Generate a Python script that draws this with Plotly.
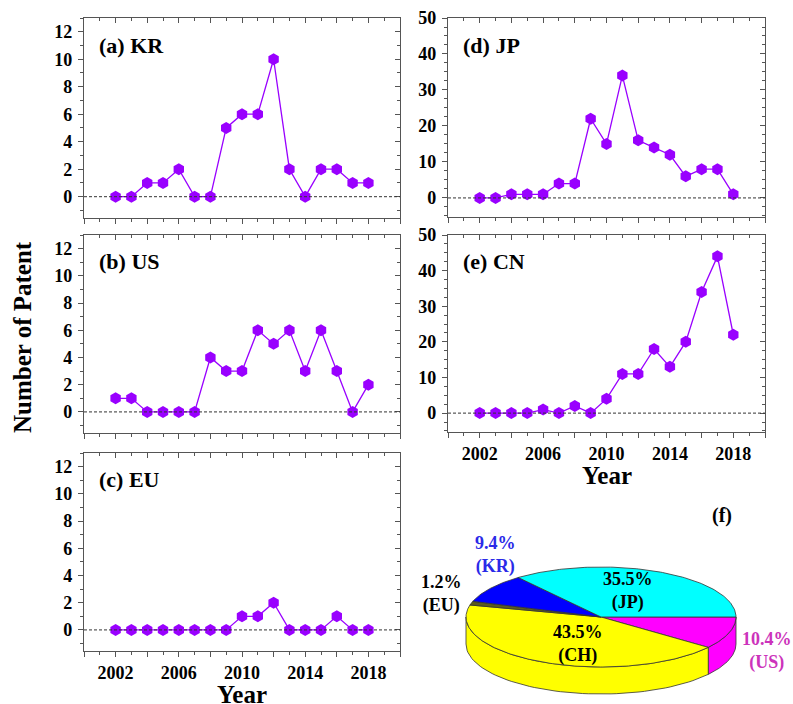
import numpy as np
import plotly.graph_objects as go

W, H = 793, 704
FONT = "Liberation Serif"

# ---------------- data ----------------
years = list(range(2002, 2019))
kr = [0, 0, 1, 1, 2, 0, 0, 5, 6, 6, 10, 2, 0, 2, 2, 1, 1]
us = [1, 1, 0, 0, 0, 0, 4, 3, 3, 6, 5, 6, 3, 6, 3, 0, 2]
eu = [0, 0, 0, 0, 0, 0, 0, 0, 1, 1, 2, 0, 0, 0, 1, 0, 0]
jp = [0, 0, 1, 1, 1, 4, 4, 22, 15, 34, 16, 14, 12, 6, 8, 8, 1]
cn = [0, 0, 0, 0, 1, 0, 2, 0, 4, 11, 11, 18, 13, 20, 34, 44, 22]

panel_labels = ["(a) KR", "(b) US", "(c) EU", "(d) JP", "(e) CN"]
x_label_years = [2002, 2006, 2010, 2014, 2018]

# pie slices, clockwise from 3 o'clock
pie_names = ["US", "CH", "EU", "KR", "JP"]
pie_values = [sum(us), sum(cn), sum(eu), sum(kr), sum(jp)]
pie_colors = ["#ff00ff", "#ffff00", "#5c5c1c", "#0000ff", "#00ffff"]
pie_label_colors = ["#cc33bb", "#000000", "#000000", "#2a2ae8", "#000000"]

# ---------------- layout geometry (pixels) ----------------
# (left, top, right, bottom)
boxes = [(84, 18, 400, 218), (84, 235, 400, 433), (84, 453, 400, 651),
         (448, 18, 765, 217), (448, 235, 765, 432)]
series = [kr, us, eu, jp, cn]
yranges = [[-1.55, 13], [-1.55, 13], [-1.55, 13], [-5.3, 50], [-5.3, 50]]
ydticks = [2, 2, 2, 10, 10]
yminor = [1, 1, 1, 2.5, 2.5]
show_xlabels = [False, False, True, False, True]


def px(x):
    return x / W


def py(y):
    return 1 - y / H


AXC = "#555555"
PURPLE = "#9900ff"
tickfont = dict(family=FONT, size=18, color="black", weight="bold")

fig = go.Figure()
layout = dict()
shapes = []
annotations = []

xtickvals = list(range(2000, 2021, 2))
for i, (box, ser) in enumerate(zip(boxes, series)):
    n = i + 1
    l, t, r, b = box
    xd = [px(l), px(r)]
    yd = [py(b), py(t)]
    xa = f"xaxis{n}" if n > 1 else "xaxis"
    ya = f"yaxis{n}" if n > 1 else "yaxis"
    fig.add_trace(go.Scatter(
        x=years, y=ser, mode="lines+markers", xaxis=f"x{n}", yaxis=f"y{n}",
        line=dict(color=PURPLE, width=1.3),
        marker=dict(symbol="hexagon", size=12, color=PURPLE, line=dict(width=0)),
        showlegend=False, hoverinfo="skip"))
    ticktext = [str(v) if (v in x_label_years and show_xlabels[i]) else "" for v in xtickvals]
    layout[xa] = dict(domain=xd, anchor=f"y{n}", range=[2000, 2020],
                      tickvals=xtickvals, ticktext=ticktext,
                      ticks="outside", ticklen=5, tickwidth=1, tickcolor=AXC,
                      minor=dict(dtick=1, tick0=2000, ticks="outside", ticklen=3, tickcolor=AXC),
                      showline=True, linecolor=AXC, linewidth=1.2, mirror=True,
                      showgrid=False, zeroline=False, tickfont=tickfont,
                      automargin=False, fixedrange=True)
    layout[ya] = dict(domain=yd, anchor=f"x{n}", range=yranges[i],
                      tick0=0, dtick=ydticks[i],
                      ticks="outside", ticklen=5, tickwidth=1, tickcolor=AXC,
                      minor=dict(dtick=yminor[i], tick0=0, ticks="outside", ticklen=3, tickcolor=AXC),
                      showline=True, linecolor=AXC, linewidth=1.2, mirror=True,
                      showgrid=False, zeroline=False, tickfont=tickfont,
                      ticklabelstandoff=2, automargin=False, fixedrange=True)
    # mirrored inside ticks (top and right)
    m = n + 6
    layout[f"xaxis{m}"] = dict(overlaying=f"x{n}" if n > 1 else "x", anchor=f"y{n}", side="top",
                               range=[2000, 2020], tickvals=xtickvals, ticktext=[""] * len(xtickvals),
                               ticks="inside", ticklen=5, tickcolor=AXC,
                               minor=dict(dtick=1, tick0=2000, ticks="inside", ticklen=3, tickcolor=AXC),
                               showline=False, showgrid=False, zeroline=False,
                               automargin=False, fixedrange=True)
    layout[f"yaxis{m}"] = dict(overlaying=f"y{n}" if n > 1 else "y", anchor=f"x{n}", side="right",
                               range=yranges[i], tick0=0, dtick=ydticks[i], showticklabels=False,
                               ticks="inside", ticklen=5, tickcolor=AXC,
                               minor=dict(dtick=yminor[i], tick0=0, ticks="inside", ticklen=3, tickcolor=AXC),
                               showline=False, showgrid=False, zeroline=False,
                               automargin=False, fixedrange=True)
    fig.add_trace(go.Scatter(x=[None], y=[None], xaxis=f"x{m}", yaxis=f"y{m}",
                             showlegend=False, hoverinfo="skip"))
    # zero dashed line
    shapes.append(dict(type="line", xref=f"x{n} domain" if n > 1 else "x domain", x0=0, x1=1,
                       yref=f"y{n}", y0=0, y1=0,
                       line=dict(color="#333333", width=1, dash="3px,2px")))
    # panel label
    annotations.append(dict(text=panel_labels[i], x=px(l + 13), y=py(t + 27), xref="paper", yref="paper",
                            xanchor="left", yanchor="middle", showarrow=False,
                            font=dict(family=FONT, size=22, color="black", weight="bold")))

# axis titles
title_font = dict(family=FONT, size=25, color="black", weight="bold")
annotations.append(dict(text="Year", x=px(242), y=py(694), xref="paper", yref="paper",
                        showarrow=False, font=title_font, xanchor="center", yanchor="middle"))
annotations.append(dict(text="Year", x=px(607), y=py(475), xref="paper", yref="paper",
                        showarrow=False, font=title_font, xanchor="center", yanchor="middle"))
annotations.append(dict(text="Number of Patent", x=px(22), y=py(337), xref="paper", yref="paper",
                        showarrow=False, font=title_font, textangle=-90,
                        xanchor="center", yanchor="middle"))

# ---------------- 3D pie (drawn in a pixel-scaled axis) ----------------
pxd0, pyd1 = 0.52, 0.30
layout["xaxis6"] = dict(domain=[pxd0, 1], range=[pxd0 * W, W], visible=False, fixedrange=True,
                        anchor="y6", automargin=False)
layout["yaxis6"] = dict(domain=[0, pyd1], range=[H, H * (1 - pyd1)], visible=False, fixedrange=True,
                        anchor="x6", automargin=False)

cx, cy, rx, ry, depth = 601, 617, 135, 50, 27
vals = np.array(pie_values, dtype=float)
fracs = vals / vals.sum()
ends = -np.cumsum(fracs) * 360.0
starts = np.concatenate([[0.0], ends[:-1]])


def ell(theta_deg, dy=0.0):
    th = np.radians(theta_deg)
    return cx + rx * np.cos(th), cy - ry * np.sin(th) + dy


OUT = "#333333"
# side walls: visible part is theta in [-180, 0]
for s, e, col in zip(starts, ends, pie_colors):
    a0, a1 = min(s, 0), max(e, -180)
    if a0 <= a1:
        continue
    th = np.linspace(a0, a1, 60)
    xt, yt = ell(th)
    xb, yb = ell(th[::-1], depth)
    xs = np.concatenate([xt, xb, xt[:1]])
    ys = np.concatenate([yt, yb, yt[:1]])
    fig.add_trace(go.Scatter(x=xs, y=ys, xaxis="x6", yaxis="y6", mode="lines", fill="toself",
                             fillcolor=col, line=dict(color=OUT, width=0.8),
                             showlegend=False, hoverinfo="skip"))
# top faces
for s, e, col in zip(starts, ends, pie_colors):
    th = np.linspace(s, e, max(int(abs(e - s)) + 2, 4))
    xt, yt = ell(th)
    xs = np.concatenate([[cx], xt, [cx]])
    ys = np.concatenate([[cy], yt, [cy]])
    fig.add_trace(go.Scatter(x=xs, y=ys, xaxis="x6", yaxis="y6", mode="lines", fill="toself",
                             fillcolor=col, line=dict(color=OUT, width=0.8),
                             showlegend=False, hoverinfo="skip"))

pie_label_pos = {"KR": (495, 555), "EU": (441, 594), "JP": (628, 591), "CH": (578, 644), "US": (767, 651)}
pfont = 18
for name, f, lc in zip(pie_names, fracs, pie_label_colors):
    x0, y0 = pie_label_pos[name]
    annotations.append(dict(text=f"{f * 100:.1f}%<br>({name})", x=x0, y=y0, xref="x6", yref="y6",
                            showarrow=False, xanchor="center", yanchor="middle",
                            font=dict(family=FONT, size=pfont, color=lc, weight="bold")))
annotations.append(dict(text="(f)", x=722, y=515, xref="x6", yref="y6", showarrow=False,
                        xanchor="center", yanchor="middle",
                        font=dict(family=FONT, size=20, color="black", weight="bold")))

fig.update_layout(**layout)
fig.update_layout(width=W, height=H, margin=dict(l=0, r=0, t=0, b=0, autoexpand=False),
                  paper_bgcolor="white", plot_bgcolor="rgba(0,0,0,0)",
                  shapes=shapes, annotations=annotations, showlegend=False)

fig.write_html("out.html")
